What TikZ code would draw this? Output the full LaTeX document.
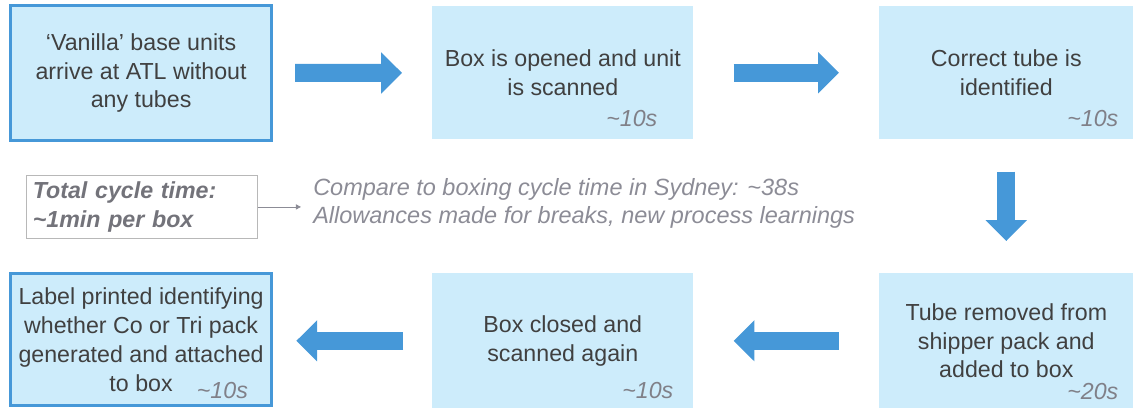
\documentclass[tikz,border=0pt]{standalone}
\usepackage{fontspec}
\setmainfont{Liberation Sans}
\usepackage{tikz}
\usetikzlibrary{positioning,arrows.meta,calc}
\definecolor{tubeFill}{RGB}{205,236,251}
\definecolor{tubeBlue}{RGB}{70,152,216}
\definecolor{tubeText}{RGB}{64,64,64}
\definecolor{tubeTime}{RGB}{128,128,136}
\definecolor{tubeNote}{RGB}{140,140,150}
\tikzset{
  tube/stage/.style={anchor=north west, fill=tubeFill, align=center, inner sep=0pt,
                     text=tubeText, font=\fontsize{16.5}{20.5}\selectfont},
  tube/start/.style={tube/stage, draw=tubeBlue, line width=2.2pt},
  tube/time/.style={anchor=east, inner sep=0pt, text=tubeTime,
                    font=\fontsize{16.5}{20.5}\selectfont\itshape},
  tube/flow/.style={draw=tubeBlue, line width=0.45cm,
                    -{Triangle[length=0.52cm, width=1cm]}},
  tube/total/.style={anchor=north west, draw=black!28, line width=0.6pt,
                     align=left, text width=5.45cm, inner xsep=0.16cm,
                     minimum height=1.575cm, text=tubeTime!90!black,
                     font=\fontsize{16.5}{20.5}\selectfont\bfseries\itshape},
  tube/note/.style={anchor=west, inner sep=0pt, align=left, text=tubeNote,
                    font=\fontsize{16.7}{20.5}\selectfont\itshape},
  tube/link/.style={draw=tubeNote, line width=0.6pt,
                    -{Triangle[length=1.3mm, width=1.3mm]}},
}

\begin{document}
\begin{tikzpicture}[x=0.025cm, y=-0.025cm]
  \useasboundingbox (0,0) rectangle (1133,408);

  % ---------------- top row ----------------
  \node[tube/start, minimum width=6.525cm, minimum height=3.375cm] (arrive) at (9,4)
    {`Vanilla' base units\\arrive at ATL without\\any tubes};
  \node[tube/stage, minimum width=6.525cm, minimum height=3.325cm] (scan) at (432,6)
    {Box is opened and unit\\is scanned};
  \node[tube/stage, minimum width=6.35cm, minimum height=3.325cm] (ident) at (879,6)
    {Correct tube is\\identified};

  % ---------------- bottom row ----------------
  \node[tube/stage, minimum width=6.35cm, minimum height=3.375cm] (remove) at (879,273)
    {Tube removed from\\shipper pack and\\added to box};
  \node[tube/stage, minimum width=6.525cm, minimum height=3.375cm] (close) at (432,273)
    {Box closed and\\scanned again};
  \node[tube/start, minimum width=6.525cm, minimum height=3.3cm] (label) at (9,272)
    {Label printed identifying\\whether Co or Tri pack\\generated and attached\\to box};

  % step times
  \node[tube/time] (scantime)   at ($(scan.south east)+(-36,-21)$)   {\textasciitilde10s};
  \node[tube/time] (identtime)  at ($(ident.south east)+(-15,-21.5)$) {\textasciitilde10s};
  \node[tube/time] (removetime) at ($(remove.south east)+(-15,-17)$) {\textasciitilde20s};
  \node[tube/time] (closetime)  at ($(close.south east)+(-20,-18)$)  {\textasciitilde10s};
  \node[tube/time] (labeltime)  at ($(label.south east)+(-25,-17)$)  {\textasciitilde10s};

  % ---------------- flow arrows ----------------
  \draw[tube/flow, shorten <=0.55cm, shorten >=0.75cm] (arrive) -- (scan);
  \draw[tube/flow, shorten <=1cm, shorten >=1cm] (scan) -- (ident);
  \draw[tube/flow, shorten <=0.8cm, shorten >=0.8cm] (ident) -- (remove);
  \draw[tube/flow, shorten <=1cm, shorten >=1cm] (remove) -- (close);
  \draw[tube/flow, shorten <=0.72cm, shorten >=0.58cm] (close.west) -- (label.east |- close.west);

  % ---------------- cycle time note ----------------
  \node[tube/total] (total) at (26,175)
    {Total cycle time:\\\textasciitilde1min per box};
  \node[tube/note] (compare) at (313,203.5)
    {Compare to boxing cycle time in Sydney: \textasciitilde38s\\
     Allowances made for breaks, new process learnings};
  \draw[tube/link, shorten >=0.3cm] (total.east) -- (total.east -| compare.west);

\end{tikzpicture}
\end{document}
